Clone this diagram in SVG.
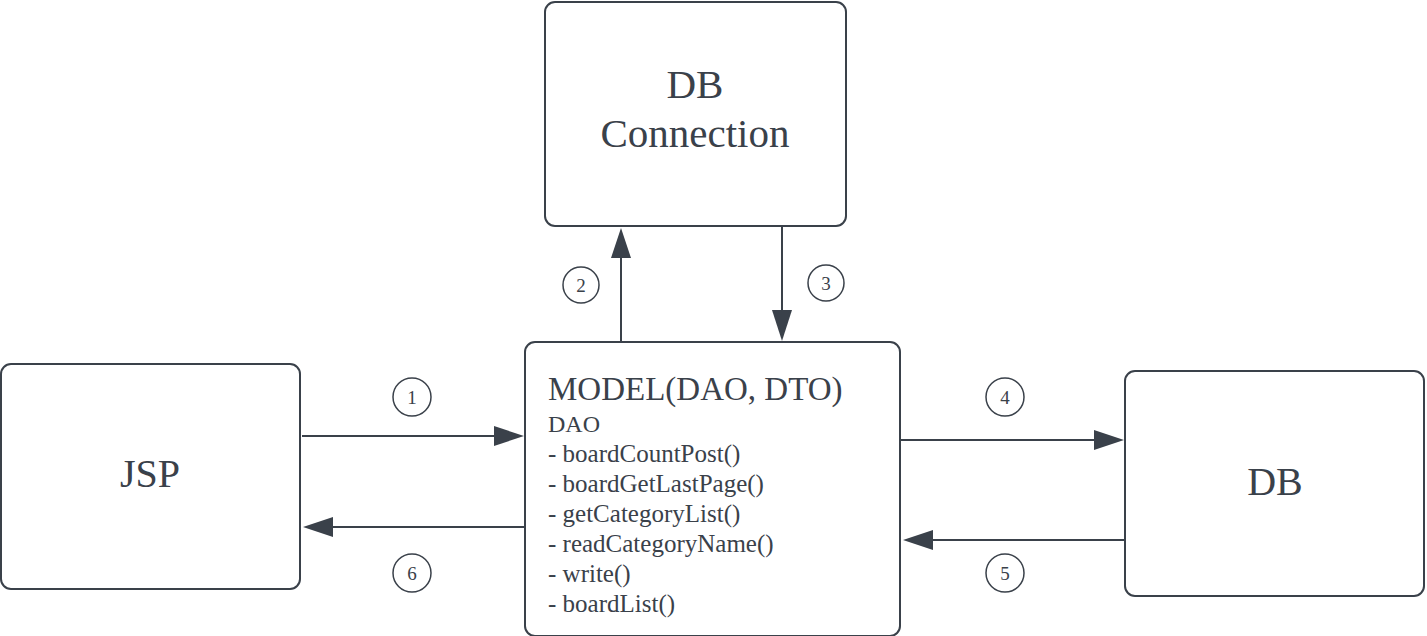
<svg xmlns="http://www.w3.org/2000/svg" width="1427" height="636" viewBox="0 0 1427 636">
<style>
.box{fill:#ffffff;stroke:#3a414a;stroke-width:2}
.t{font-family:"Liberation Serif","Times New Roman",serif;fill:#3a414a}
.c{fill:none;stroke:#3a414a;stroke-width:2}
.cl{fill:#ffffff;stroke:#3a414a;stroke-width:1.5}
.n{font-family:"Liberation Serif","Times New Roman",serif;fill:#3a414a;font-size:19px;text-anchor:middle}
.ah{fill:#3a414a}
</style>
<rect width="1427" height="636" fill="#ffffff"/>
<g id="connectors">
  <line class="c" x1="302" y1="436" x2="496" y2="436"/>
  <polygon class="ah" points="524,436 494,426 494,446"/>
  <line class="c" x1="525" y1="527" x2="331" y2="527"/>
  <polygon class="ah" points="303,527 333,517 333,537"/>
  <line class="c" x1="901" y1="440" x2="1096" y2="440"/>
  <polygon class="ah" points="1124,440 1094,430 1094,450"/>
  <line class="c" x1="1125" y1="540" x2="931" y2="540"/>
  <polygon class="ah" points="903,540 933,530 933,550"/>
  <line class="c" x1="621" y1="342" x2="621" y2="256"/>
  <polygon class="ah" points="621,228 611,258 631,258"/>
  <line class="c" x1="782" y1="227" x2="782" y2="312"/>
  <polygon class="ah" points="782,341 772,310 792,310"/>
  <circle class="cl" cx="412" cy="397" r="19"/>
  <text class="n" x="412" y="404">1</text>
  <circle class="cl" cx="581" cy="285" r="18"/>
  <text class="n" x="581" y="292">2</text>
  <circle class="cl" cx="826" cy="283" r="18"/>
  <text class="n" x="826" y="290">3</text>
  <circle class="cl" cx="1005" cy="397" r="19"/>
  <text class="n" x="1005" y="404">4</text>
  <circle class="cl" cx="1005" cy="573" r="19"/>
  <text class="n" x="1005" y="580">5</text>
  <circle class="cl" cx="412" cy="573" r="19"/>
  <text class="n" x="412" y="580">6</text>
</g>
<g id="dbconnection">
  <rect class="box" x="545" y="2" width="301" height="224" rx="10"/>
  <text class="t" x="695" y="98" font-size="41" text-anchor="middle">DB</text>
  <text class="t" x="695" y="147" font-size="41" text-anchor="middle">Connection</text>
</g>
<g id="jsp">
  <rect class="box" x="1" y="364" width="299" height="225" rx="10"/>
  <text class="t" x="150" y="487" font-size="40" text-anchor="middle">JSP</text>
</g>
<g id="model">
  <rect class="box" x="525" y="342" width="375" height="294" rx="10"/>
  <text class="t" x="548" y="400" font-size="33">MODEL(DAO, DTO)</text>
  <text class="t" x="548" y="432" font-size="24">DAO</text>
  <text class="t" x="548" y="462" font-size="25">- boardCountPost()</text>
  <text class="t" x="548" y="492" font-size="25">- boardGetLastPage()</text>
  <text class="t" x="548" y="522" font-size="25">- getCategoryList()</text>
  <text class="t" x="548" y="552" font-size="25">- readCategoryName()</text>
  <text class="t" x="548" y="582" font-size="25">- write()</text>
  <text class="t" x="548" y="612" font-size="25">- boardList()</text>
</g>
<g id="db">
  <rect class="box" x="1125" y="371" width="299" height="225" rx="10"/>
  <text class="t" x="1275" y="495" font-size="40" text-anchor="middle">DB</text>
</g>
</svg>
